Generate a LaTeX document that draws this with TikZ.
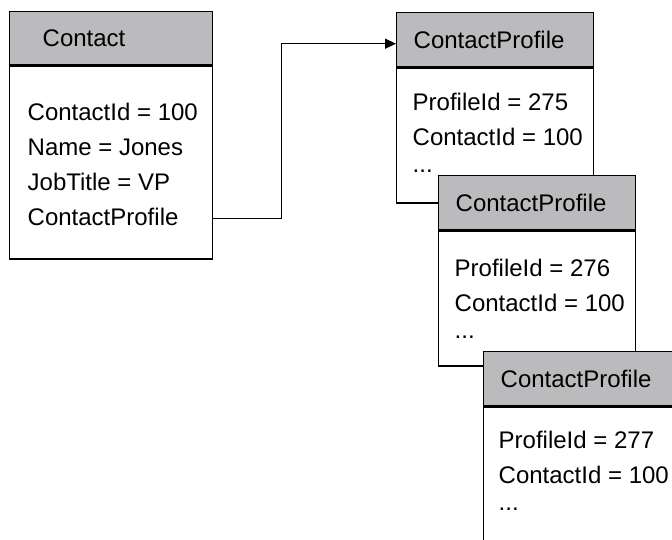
\documentclass[tikz,border=0pt]{standalone}
\usepackage{fontspec}
\setmainfont{Liberation Sans}
\usetikzlibrary{arrows.meta}

\definecolor{headgray}{RGB}{187,187,190}

\begin{document}
\begin{tikzpicture}[x=0.5pt, y=-0.5pt, line width=0.7pt,
	every node/.style={font=\fontsize{12}{17.5}\selectfont},
	head/.style={draw, fill=headgray, anchor=north west, align=left, minimum height=27pt, inner ysep=0pt},
	data/.style={draw, fill=white, anchor=north west, inner sep=0pt},
	lines/.style={anchor=west, align=left, inner sep=0pt},
	link/.style={-{Triangle[length=5.5pt, width=5pt]}}]
	\useasboundingbox (0,0) rectangle (672,539);
	\clip (0,0) rectangle (672,539);

	\node[head, minimum height=26.5pt, inner xsep=16.5pt, text width=68.5pt] (contact) at (9,11) {Contact};
	\node[data, minimum width=101.5pt, minimum height=96.5pt] (contactdata) at (contact.south west) {};
	\node[lines] (contacttext) at ([xshift=9pt, yshift=-1pt]contactdata.west)
		{ContactId = 100\\Name = Jones\\JobTitle = VP\\ContactProfile};

	\node[head, inner xsep=8.5pt, text width=81.5pt] (profile1) at (396,12) {ContactProfile};
	\node[data, minimum width=98.5pt, minimum height=67.5pt] (profile1data) at (profile1.south west) {};
	\node[lines] (profile1text) at ([xshift=8pt, yshift=1.5pt]profile1data.west)
		{ProfileId = 275\\ContactId = 100\\[-4pt]...};

	\node[head, inner xsep=8.5pt, text width=81.5pt] (profile2) at (438,175) {ContactProfile};
	\node[data, minimum width=98.5pt, minimum height=67.5pt] (profile2data) at (profile2.south west) {};
	\node[lines] (profile2text) at ([xshift=8pt]profile2data.west)
		{ProfileId = 276\\ContactId = 100\\[-4pt]...};

	\node[head, inner xsep=8.5pt, text width=81.5pt] (profile3) at (483,351) {ContactProfile};
	\node[data, minimum width=98.5pt, minimum height=71pt] (profile3data) at (profile3.south west) {};
	\node[lines] (profile3text) at ([xshift=7.5pt, yshift=3.5pt]profile3data.west)
		{ProfileId = 277\\ContactId = 100\\[-4pt]...};

	\draw[link] ([yshift=-28pt]contactdata.east) -- ++(34pt,0) |- ([yshift=-2pt]profile1.west);
\end{tikzpicture}
\end{document}
